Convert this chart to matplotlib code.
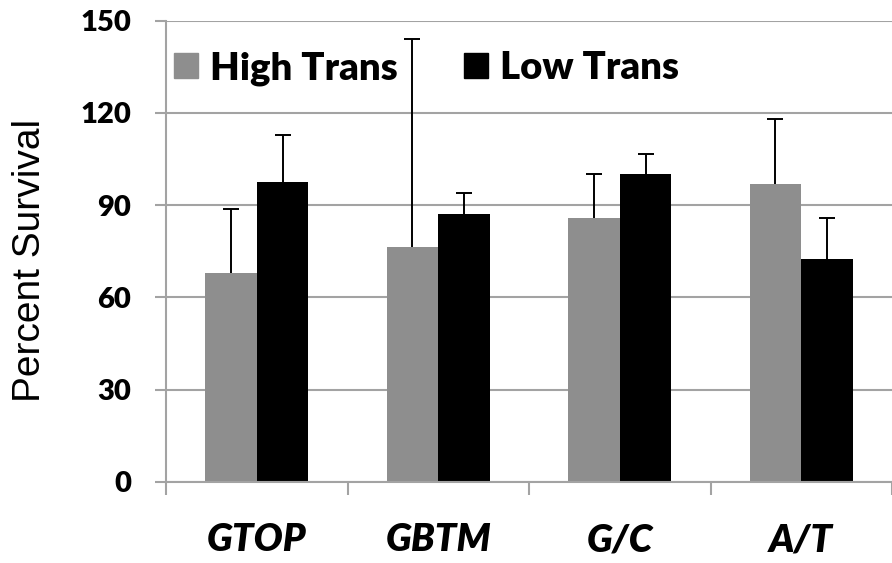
import numpy as np
import matplotlib
matplotlib.use("Agg")
import matplotlib.pyplot as plt
from matplotlib.patches import Patch

categories = ["GTOP", "GBTM", "G/C", "A/T"]
high_trans = [67.8, 76.3, 85.9, 97.0]
high_err = [20.8, 67.9, 14.1, 20.9]
low_trans = [97.5, 87.0, 100.1, 72.6]
low_err = [15.4, 7.0, 6.6, 13.1]
yticks = [0, 30, 60, 90, 120, 150]

gray = "#8e8e8e"
grid_c = "#a3a3a3"

fig = plt.figure(figsize=(8.92, 5.63), dpi=100)
ax = fig.add_axes([166 / 892, 1 - 481.7 / 563, 1 - 166 / 892, (481.7 - 20.7) / 563])

x = np.arange(len(categories))
w = 0.284
ax.bar(x - w / 2, high_trans, w, color=gray, zorder=2)
ax.bar(x + w / 2, low_trans, w, color="black", zorder=2)

# upper error bars only, cap at the top end
for xs, vals, errs in [(x - w / 2, high_trans, high_err), (x + w / 2, low_trans, low_err)]:
    vals = np.array(vals)
    errs = np.array(errs)
    ax.vlines(xs, vals, vals + errs, color="black", linewidth=1.4, zorder=3)
    ax.plot(xs, vals + errs, linestyle="none", marker="_", markersize=11,
            markeredgewidth=1.4, color="black", zorder=3)

ax.set_ylim(0, 150)
ax.set_xlim(-0.5, -0.5 + (892 - 166) / 183)
ax.set_yticks(yticks)
ax.set_yticklabels([str(t) for t in yticks], fontfamily="Lato",
                   fontweight="heavy", fontsize=21)
ax.yaxis.grid(True, color=grid_c, linewidth=1.5)
ax.set_axisbelow(True)

# category boundaries carry the ticks, names sit in the middle
ax.set_xticks(np.arange(len(categories) + 1) - 0.5)
ax.set_xticklabels([])
ax.set_xticks(x, minor=True)
ax.set_xticklabels(categories, minor=True, fontfamily="Lato",
                   fontweight="heavy", fontstyle="italic", fontsize=27.5)
ax.tick_params(axis="x", which="major", length=9.5, width=1.5, color=grid_c)
ax.tick_params(axis="x", which="minor", length=0, pad=30)
ax.tick_params(axis="y", length=8, width=1.5, color=grid_c, pad=17)

for s in ["top", "right"]:
    ax.spines[s].set_visible(False)
for s in ["left", "bottom"]:
    ax.spines[s].set_color(grid_c)
    ax.spines[s].set_linewidth(1.5)

ax.set_ylabel("Percent Survival", fontfamily="Liberation Sans", fontsize=28,
              va="center")
ax.yaxis.set_label_coords(30 / 892, 1 - 260 / 563, transform=fig.transFigure)

handles = [Patch(color=gray, label="High Trans"), Patch(color="black", label="Low Trans")]
fig.legend(handles=handles, loc="center left", ncol=2, frameon=False,
           bbox_to_anchor=(174 / 892, 1 - 68.3 / 563),
           prop={"family": "Lato", "weight": "heavy", "size": 27.5},
           handlelength=0.62, handleheight=0.62, handletextpad=0.32,
           columnspacing=1.75, borderpad=0, borderaxespad=0)

fig.savefig("out.png", dpi=100)
